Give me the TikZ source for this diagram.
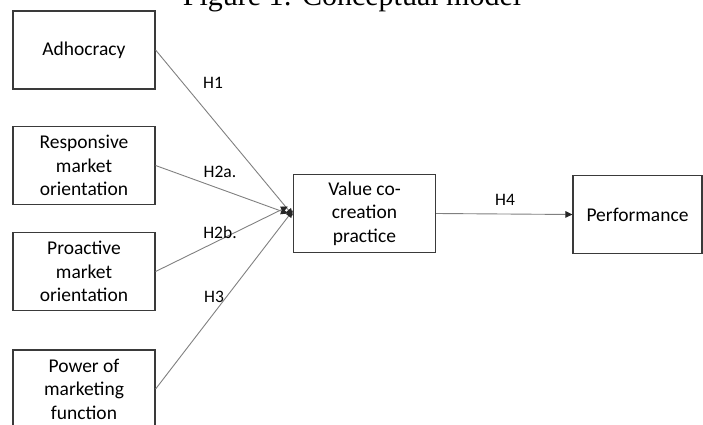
\documentclass[tikz,border=0pt]{standalone}
\usepackage{fontspec}
\setmainfont{Carlito}
\newfontfamily\titlefont{Liberation Serif}
\usetikzlibrary{positioning,arrows.meta,calc}
\definecolor{bink}{HTML}{3A3A3A}
\definecolor{lgry}{HTML}{808080}
\tikzset{
  cbox/.style  ={draw=bink, line width=1.2pt, fill=white, align=center,
                 minimum width=142pt, minimum height=78pt, inner sep=2pt,
                 font=\fontsize{19.5}{23.5}\selectfont},
  hlab/.style  ={font=\fontsize{17.5}{20}\selectfont, inner sep=0pt},
  link/.style  ={-{Triangle[length=7pt,width=6.5pt,color=black!85]}, line width=0.9pt, draw=lgry},
}
\begin{document}
\begin{tikzpicture}[x=1pt, y=-1pt]
  \useasboundingbox (0,0) rectangle (703,425);
  \begin{scope}
  \clip (0,0) rectangle (703,425);
  % title, cut at the top edge
  \node[anchor=base, inner sep=0pt, font=\titlefont\fontsize{30}{34}\selectfont] (title) at (352,6) {Figure 1: Conceptual model};
  % antecedents
  \node[cbox] (adh) at (84,50)    {Adhocracy};
  \node[cbox] (rmo) at (84,165.5) {Responsive\\market\\orientation};
  \node[cbox] (pmo) at (84,271.5) {Proactive\\market\\orientation};
  \node[cbox] (pmf) at (84,389)   {Power of\\marketing\\function};
  % mediator and outcome
  \node[cbox] (vcp) at (364.5,213.5) {Value co-\\creation\\practice};
  \node[cbox, minimum width=129pt] (perf) at (637.5,214.5) {Performance};
  % hypotheses
  \draw[link] (adh.east) -- ([yshift=-2pt]vcp.west);
  \draw[link] (rmo.east) -- ([xshift=-5pt]vcp.west);
  \draw[link] (pmo.east) -- ([xshift=-5pt,yshift=7pt]vcp.west);
  \draw[link] (pmf.east) -- ([yshift=3pt]vcp.west);
  \draw[link] (vcp.east) -- (perf.west);
  \node[hlab] (h1)  at (213,83)  {H1};
  \node[hlab] (h2a) at (220,172) {H2a.};
  \node[hlab] (h2b) at (220,232) {H2b.};
  \node[hlab] (h3)  at (214,297) {H3};
  \node[hlab] (h4)  at (505,200) {H4};
  \end{scope}
\end{tikzpicture}
\end{document}
